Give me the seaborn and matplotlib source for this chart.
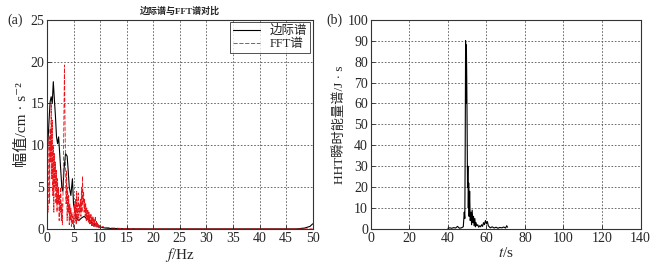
import numpy as np
import pandas as pd
import matplotlib
matplotlib.use("Agg")
import matplotlib.pyplot as plt
import seaborn as sns

# (a) marginal spectrum (black)
marg_f = [0.0, 0.2, 0.4, 0.6, 0.8, 1.0, 1.2, 1.35, 1.6, 1.8, 2.0, 2.2, 2.4, 2.6, 2.8, 3.0,
          3.2, 3.5, 3.8, 4.0, 4.2, 4.5, 4.8, 5.0, 5.3, 5.6, 6.0, 6.5, 7.0, 7.5, 8.0, 8.5,
          9.0, 9.5, 10.0, 11.0, 12.0, 14.0, 20.0, 30.0, 40.0, 47.0, 48.5, 49.5, 50.0]
marg_a = [8.0, 10.5, 13.0, 15.2, 15.8, 15.0, 17.6, 16.0, 13.5, 11.0, 10.2, 11.0, 9.0, 7.0, 5.0, 4.5,
          7.0, 9.0, 8.7, 7.0, 5.0, 4.0, 6.0, 3.0, 2.0, 1.2, 1.0, 1.3, 1.5, 1.2, 1.0, 0.7,
          0.5, 0.3, 0.2, 0.1, 0.05, 0.02, 0.0, 0.0, 0.0, 0.0, 0.1, 0.3, 0.6]

# (a) FFT spectrum (red), 0.1 Hz steps up to 10 Hz, then tail
fft_f = [round(0.1 * i, 1) for i in range(101)] + [10.5, 11.0, 11.5, 12.0, 13.0, 14.0, 15.0, 20.0, 30.0, 40.0, 50.0]
fft_a = [0, 4, 2, 5, 11, 3, 12, 8, 15, 6,
         13, 4, 10, 2, 9, 5, 8, 3, 7, 2,
         6, 3, 5, 1, 4, 2, 5, 1, 3, 0.5,
         3, 8, 14, 19.6, 13, 8, 3, 7, 1, 5,
         2, 4, 0.5, 3, 1, 2.5, 0.3, 2, 0.5, 1.5,
         0.2, 2, 3, 1, 3.5, 0.5, 4.5, 1, 3, 4.3,
         1, 3, 2, 3.5, 1.5, 5, 2, 6.3, 3, 4.5,
         2, 3.5, 1.5, 3, 1, 2.5, 1, 2.2, 0.8, 2,
         0.6, 1.8, 0.5, 1.7, 0.4, 1.5, 0.4, 1.4, 0.3, 1.2,
         0.3, 1.5, 0.2, 1, 0.2, 0.8, 0.1, 0.5, 0.1, 0.4,
         0.1, 0.3, 0.2, 0.15, 0.1, 0.1, 0.05, 0.02, 0.0, 0.0, 0.0, 0.0]

# (b) HHT instantaneous energy
hht_t = [40, 41, 42, 43, 44, 45, 46, 47, 48, 48.5, 48.8, 49.0, 49.2, 49.4, 49.6, 49.8,
         50.0, 50.2, 50.4, 50.6, 50.8, 51.0, 51.3, 51.6, 52.0, 52.3, 52.6, 53.0, 53.3, 53.6,
         54.0, 54.3, 54.6, 55.0, 55.5, 56.0, 56.5, 57.0, 57.5, 58.0, 58.5, 59.0, 59.5, 60.0,
         60.5, 61.0, 61.5, 62.0, 63.0, 64.0, 65.0, 66.0, 67.0, 68.0, 69.0, 70.0, 70.5, 71.0]
hht_e = [0.3, 0.5, 0.3, 0.6, 0.4, 1.2, 0.3, 0.5, 1.0, 8.0, 5.0, 40.0, 90.0, 60.0, 88.0, 72.0,
         48.0, 20.0, 30.0, 10.0, 22.0, 6.0, 18.0, 4.0, 8.0, 2.0, 9.0, 3.0, 6.0, 1.5,
         5.0, 1.0, 3.0, 1.5, 2.0, 0.8, 1.5, 1.0, 2.0, 1.2, 3.0, 2.0, 4.0, 2.5,
         3.5, 1.5, 1.0, 0.5, 1.0, 0.4, 0.8, 0.3, 0.7, 0.5, 0.9, 0.4, 1.5, 0.8]

sns.set_style("ticks")
plt.rcParams["font.family"] = ["Liberation Serif", "Noto Sans CJK SC", "DejaVu Serif"]
plt.rcParams["mathtext.fontset"] = "stix"
plt.rcParams["xtick.direction"] = "in"
plt.rcParams["ytick.direction"] = "in"

fig = plt.figure(figsize=(6.61, 2.64), dpi=100)
ax1 = fig.add_axes([0.071, 0.133, 0.402, 0.792])
ax2 = fig.add_axes([0.561, 0.133, 0.408, 0.792])

sns.lineplot(x=marg_f, y=marg_a, ax=ax1, color="black", lw=0.8, label="边际谱")
sns.lineplot(x=fft_f, y=fft_a, ax=ax1, color="#e8141a", lw=0.6, label="FFT谱")
ax1.lines[1].set_linestyle((0, (5, 2)))
ax1.set_xlim(0, 50)
ax1.set_ylim(0, 25)
ax1.set_xticks(range(0, 51, 5))
ax1.set_yticks(range(0, 26, 5))
ax1.set_xlabel("$f$/Hz", fontsize=11, labelpad=1)
ax1.set_ylabel("幅值/cm · s⁻²", fontsize=11, labelpad=1)
ax1.set_title("边际谱与FFT谱对比", fontsize=6.5, fontweight="bold", pad=4)
leg = ax1.legend(loc="upper right", fontsize=9, frameon=True, fancybox=False,
                 borderpad=0.2, handlelength=2.2, labelspacing=0.1, borderaxespad=0.2)
leg.get_frame().set_edgecolor("black")
leg.get_frame().set_linewidth(0.6)
ax1.text(-0.15, 1.0, "(a)", transform=ax1.transAxes, fontsize=10, va="center")

sns.lineplot(x=hht_t, y=hht_e, ax=ax2, color="black", lw=0.8)
ax2.set_xlim(0, 140)
ax2.set_ylim(0, 100)
ax2.set_xticks(range(0, 141, 20))
ax2.set_yticks(range(0, 101, 10))
ax2.set_xlabel("$t$/s", fontsize=11, labelpad=1)
ax2.set_ylabel("HHT瞬时能量谱/J · s", fontsize=9.5, labelpad=1)
ax2.text(-0.165, 1.0, "(b)", transform=ax2.transAxes, fontsize=10, va="center")

for ax in (ax1, ax2):
    ax.grid(True, linestyle=(0, (2, 2)), color="#555555", lw=0.6)
    ax.tick_params(labelsize=10, length=3, width=0.6, pad=2)
    for s in ax.spines.values():
        s.set_linewidth(0.8)
        s.set_color("#333333")

fig.savefig("out.png", dpi=100)
